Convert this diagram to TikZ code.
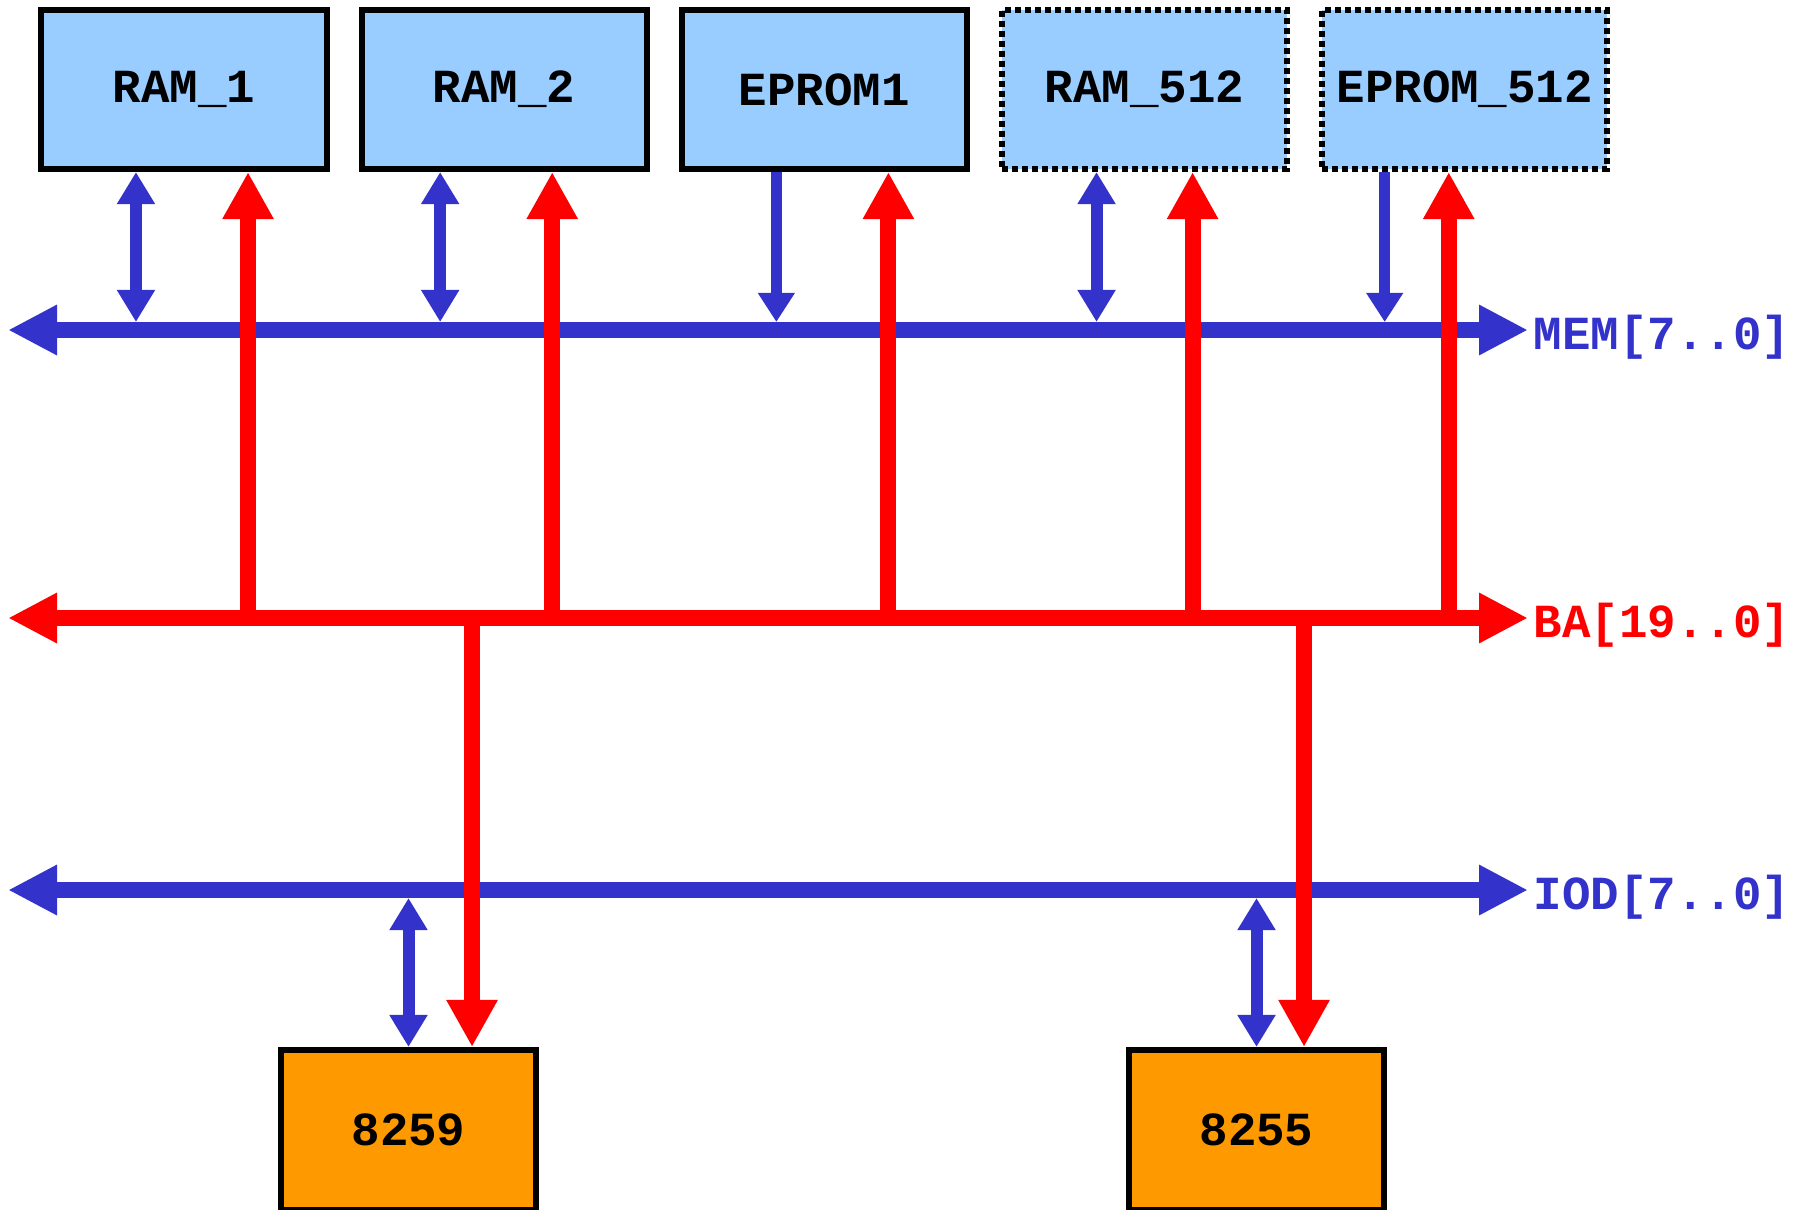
\documentclass[tikz,border=0pt]{standalone}
\usepackage{fontspec}
\newfontfamily\chipfont{Liberation Mono}
\usetikzlibrary{positioning,arrows.meta}
\definecolor{chipblue}{HTML}{99CCFF}
\definecolor{ioorange}{HTML}{FF9900}
\definecolor{busblue}{HTML}{3333CC}
\definecolor{busred}{HTML}{FF0000}

\begin{document}
\begin{tikzpicture}[
		x=0.01cm,y=-0.01cm,
		every node/.append style={
			font=\chipfont\bfseries\fontsize{13.5}{15}\selectfont,
		},
		chip/.style={draw=black,line width=0.06cm,fill=chipblue,inner sep=0pt,
			minimum width=2.85cm,minimum height=1.59cm},
		optchip/.style={chip,dash pattern=on 0.06cm off 0.04cm},
		iochip/.style={chip,fill=ioorange,minimum width=2.55cm,minimum height=1.60cm},
		bus/.style={line width=0.16cm,
			{Triangle[length=0.49cm,width=0.47cm]}-{Triangle[length=0.49cm,width=0.47cm]}},
		buslabel/.style={inner sep=0pt,yshift=-0.07cm},
		duplex/.style={busblue,line width=0.12cm,
			{Triangle[length=0.32cm,width=0.36cm]}-{Triangle[length=0.32cm,width=0.36cm]}},
		tomem/.style={busblue,line width=0.11cm,-{Triangle[length=0.29cm,width=0.35cm]}},
		addr/.style={busred,line width=0.16cm,-{Triangle[length=0.47cm,width=0.48cm]}},
	]
	\useasboundingbox (0,0) rectangle (1810,1209);
	% memory chips along the top
	\node[chip] (ram1) at (184,89.5) {RAM\_1};
	\node[chip,right=0.29cm of ram1] (ram2) {RAM\_2};
	\node[chip,right=0.29cm of ram2] (eprom1) {EPROM1};
	\node[optchip,right=0.29cm of eprom1] (ram512) {RAM\_512};
	\node[optchip,right=0.29cm of ram512] (eprom512) {EPROM\_512};
	% peripheral chips at the bottom
	\node[iochip] (pic8259) at (408.5,1130) {8259};
	\node[iochip] (ppi8255) at (1256.5,1130) {8255};
	% bus ends
	\coordinate (memL) at (8,330);
	\coordinate (memR) at (1528,330);
	\coordinate (baL) at (8,618);
	\coordinate (baR) at (1528,618);
	\coordinate (iodL) at (8,890);
	\coordinate (iodR) at (1528,890);
	% memory data bus
	\draw[bus,busblue] (memL) -- (memR);
	\node[buslabel,busblue,right=0.05cm of memR] (memlabel) {MEM[7..0]};
	\draw[duplex,shorten >=0.08cm] ([xshift=-0.48cm]ram1.south) -- ([xshift=-0.48cm]ram1.south |- memL);
	\draw[duplex,shorten >=0.08cm] ([xshift=-0.64cm]ram2.south) -- ([xshift=-0.64cm]ram2.south |- memL);
	\draw[tomem,shorten >=0.08cm] ([xshift=-0.48cm]eprom1.south) -- ([xshift=-0.48cm]eprom1.south |- memL);
	\draw[duplex,shorten >=0.08cm] ([xshift=-0.48cm]ram512.south) -- ([xshift=-0.48cm]ram512.south |- memL);
	\draw[tomem,shorten >=0.08cm] ([xshift=-0.80cm]eprom512.south) -- ([xshift=-0.80cm]eprom512.south |- memL);
	% address bus
	\draw[bus,busred] (baL) -- (baR);
	\node[buslabel,busred,right=0.05cm of baR] (balabel) {BA[19..0]};
	\draw[addr] ([xshift=0.64cm]ram1.south |- baL) -- ([xshift=0.64cm]ram1.south);
	\draw[addr] ([xshift=0.48cm]ram2.south |- baL) -- ([xshift=0.48cm]ram2.south);
	\draw[addr] ([xshift=0.64cm]eprom1.south |- baL) -- ([xshift=0.64cm]eprom1.south);
	\draw[addr] ([xshift=0.48cm]ram512.south |- baL) -- ([xshift=0.48cm]ram512.south);
	\draw[addr] ([xshift=-0.16cm]eprom512.south |- baL) -- ([xshift=-0.16cm]eprom512.south);
	% i/o data bus
	\draw[bus,busblue] (iodL) -- (iodR);
	\node[buslabel,busblue,right=0.05cm of iodR] (iodlabel) {IOD[7..0]};
	\draw[duplex,shorten <=0.08cm] (pic8259.north |- iodL) -- (pic8259.north);
	\draw[duplex,shorten <=0.08cm] (ppi8255.north |- iodL) -- (ppi8255.north);
	\draw[addr] ([xshift=0.635cm]pic8259.north |- baL) -- ([xshift=0.635cm]pic8259.north);
	\draw[addr] ([xshift=0.475cm]ppi8255.north |- baL) -- ([xshift=0.475cm]ppi8255.north);
\end{tikzpicture}
\end{document}
